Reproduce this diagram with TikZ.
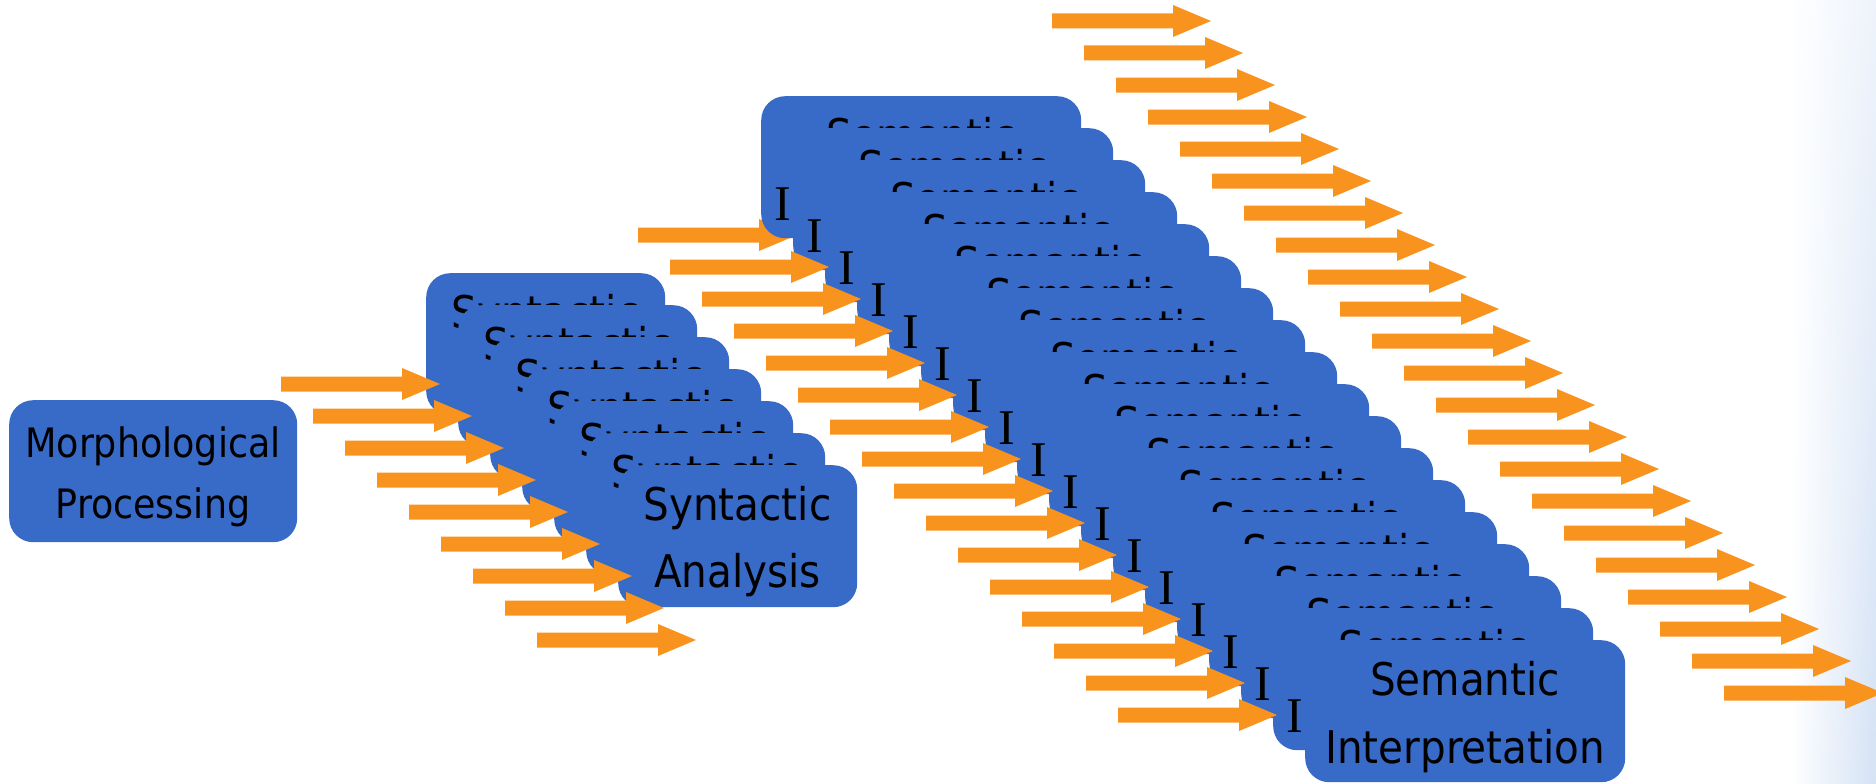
\documentclass[tikz,border=0pt]{standalone}
\usepackage{fontspec}
\setmainfont{DejaVu Sans Condensed}
\newfontfamily\serifI{Liberation Serif}
\usetikzlibrary{shadings}
\definecolor{boxblue}{RGB}{56,106,200}
\definecolor{arroworange}{RGB}{248,148,30}
\definecolor{edgeblue}{RGB}{212,226,245}
\tikzset{
  procbox/.style={fill=boxblue, draw=none, rounded corners=24pt, minimum width=#1,
    minimum height=142pt, inner sep=0pt, anchor=north west},
  lbl/.style={font=\fontsize{45}{54}\selectfont, text=black, inner sep=0pt, anchor=base},
  lblm/.style={font=\fontsize{40.5}{48}\selectfont, text=black, inner sep=0pt, anchor=base},
  lbli/.style={font=\serifI\fontsize{50}{60}\selectfont, text=black, inner sep=0pt, anchor=base},
  blockarrow/.pic={\fill[arroworange] (-159,-7.5) -- (-38,-7.5) -- (-38,-16) -- (0,0)
    -- (-38,16) -- (-38,7.5) -- (-159,7.5) -- cycle;}
}
\begin{document}
\begin{tikzpicture}[x=1pt,y=-1pt]
\useasboundingbox (0,0) rectangle (1876,784);
\clip (0,0) rectangle (1876,784);
% faint background vignette at the right edge
\shade[upper left=white, lower left=white, upper right=white!60!edgeblue, lower right=edgeblue]
  (1790,0) rectangle (1876,784);

% Morphological processing
\node[procbox=288pt] (morph) at (9,400) {};
\node[lblm] (morphA) at (153,457) {Morphological};
\node[lblm] (morphB) at (153,518) {Processing};

% Syntactic stack
\foreach \i in {0,...,6} {
  \node[procbox=239pt] (syn\i) at ({426+32*\i},{273+32*\i}) {};
  \node[lbl] (synA\i) at ({426+32*\i+119.5},{273+32*\i+55}) {Syntactic};
  \node[lbl] (synB\i) at ({426+32*\i+119.5},{273+32*\i+122}) {Analysis};
}

% arrows between morphology and syntax
\foreach \i in {0,...,8} {
  \pic at ({440+32*\i},{384+32*\i}) {blockarrow};
}

% first arrow towards semantics lies under the stack
\pic at (797,235) {blockarrow};

% Semantic stack
\foreach \i in {0,...,16} {
  \node[procbox=320pt] (sem\i) at ({761+32*\i},{96+32*\i}) {};
  \node[lbl] (semA\i) at ({761+32*\i+160},{96+32*\i+55}) {Semantic};
  \node[lbli] (semI\i) at ({761+32*\i+21.5},{96+32*\i+124}) {I};
}
\node[procbox=320pt] (sem17) at (1305,640) {};
\node[lbl] (semA17) at (1465,695) {Semantic};
\node[lbl] (semB17) at (1465,763) {Interpretation};

% arrows between syntax and semantics
\foreach \i in {1,...,15} {
  \pic at ({797+32*\i},{235+32*\i}) {blockarrow};
}

% arrows leaving semantics
\foreach \i in {0,...,21} {
  \pic at ({1211+32*\i},{21+32*\i}) {blockarrow};
}
\end{tikzpicture}
\end{document}
